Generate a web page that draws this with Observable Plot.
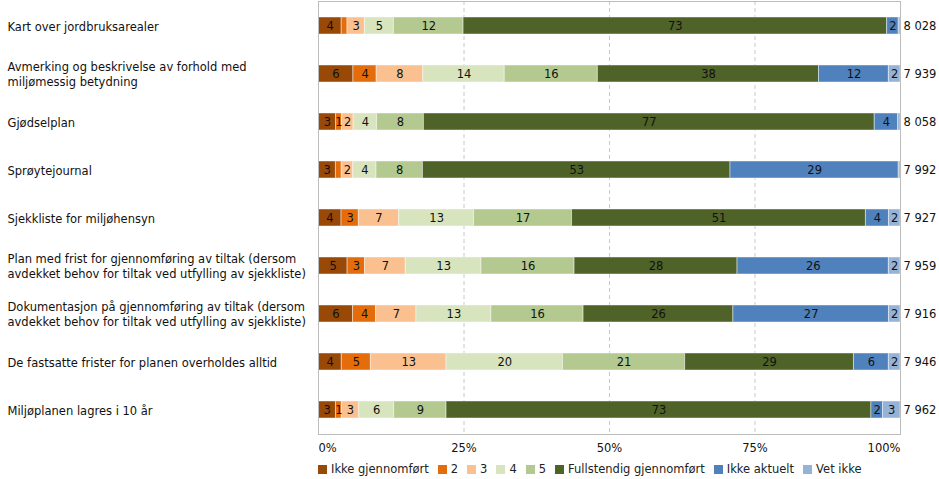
<!DOCTYPE html>
<html>
<head>
<meta charset="utf-8">
<script src="https://cdn.jsdelivr.net/npm/d3@7"></script>
<script src="https://cdn.jsdelivr.net/npm/@observablehq/plot@0.6"></script>
<style>
  body { margin: 0; background: #fff; font-family: "DejaVu Sans", Verdana, sans-serif; }
  #legend { display: flex; margin-left: 318px; margin-top: 6px; font-size: 11.5px; color: #222; align-items: center; }
  #legend .item { display: flex; align-items: center; margin-right: 9px; }
  #legend .sw { width: 9px; height: 9px; margin-right: 4px; }
</style>
</head>
<body>
<div id="chart"></div>
<div id="legend"></div>
<script>
const categories = [
  "Kart over jordbruksarealer",
  "Avmerking og beskrivelse av forhold med\nmiljømessig betydning",
  "Gjødselplan",
  "Sprøytejournal",
  "Sjekkliste for miljøhensyn",
  "Plan med frist for gjennomføring av tiltak (dersom\navdekket behov for tiltak ved utfylling av sjekkliste)",
  "Dokumentasjon på gjennomføring av tiltak (dersom\navdekket behov for tiltak ved utfylling av sjekkliste)",
  "De fastsatte frister for planen overholdes alltid",
  "Miljøplanen lagres i 10 år"
];
const totals = [8028, 7939, 8058, 7992, 7927, 7959, 7916, 7946, 7962];
const seriesNames = ["Ikke gjennomført", "2", "3", "4", "5", "Fullstendig gjennomført", "Ikke aktuelt", "Vet ikke"];
const seriesColors = ["#984807", "#E46C0A", "#FAC090", "#D7E4BD", "#B3C98F", "#4F6228", "#4F81BD", "#95B3D7"];

const ikkeGjennomfort = [4, 6, 3, 3, 4, 5, 6, 4, 3];
const verdi2          = [1, 4, 1, 1, 3, 3, 4, 5, 1];
const verdi3          = [3, 8, 2, 2, 7, 7, 7, 13, 3];
const verdi4          = [5, 14, 4, 4, 13, 13, 13, 20, 6];
const verdi5          = [12, 16, 8, 8, 17, 16, 16, 21, 9];
const fullstendig     = [73, 38, 77, 53, 51, 28, 26, 29, 73];
const ikkeAktuelt     = [2, 12, 4, 29, 4, 26, 27, 6, 2];
const vetIkke         = [0.3, 2, 0.4, 0.3, 2, 2, 2, 2, 3];
// labels not shown in the original (row index, series)
const hiddenLabels = [[0, "2"], [3, "2"]];

const xTicks = [0, 0.25, 0.5, 0.75, 1];

const seriesValues = [ikkeGjennomfort, verdi2, verdi3, verdi4, verdi5, fullstendig, ikkeAktuelt, vetIkke];
const data = [];
categories.forEach((c, i) => {
  seriesNames.forEach((s, j) => {
    const v = seriesValues[j][i];
    const hidden = hiddenLabels.some(([r, n]) => r === i && n === s);
    data.push({cat: c, series: s, value: v, label: (v >= 1 && !hidden) ? String(Math.round(v)) : ""});
  });
});
const fmtN = n => String(n).replace(/\B(?=(\d{3})+(?!\d))/g, " ");

const stackOpts = {x: "value", y: "cat", z: "series", order: seriesNames, offset: "normalize"};
const axisOpts = {tickSize: 0, tickPadding: 9, tickFormat: d3.format(".0%"), fill: "#111", label: null};

const chart = Plot.plot({
  width: 939,
  height: 456,
  marginLeft: 318,
  marginRight: 39,
  marginTop: 1,
  marginBottom: 22,
  style: {fontFamily: '"DejaVu Sans", Verdana, sans-serif', fontSize: "11.5px", color: "#222"},
  x: {domain: [0, 1], axis: null, label: null},
  y: {domain: categories, paddingInner: 0.65, paddingOuter: 0.325, axis: null},
  color: {domain: seriesNames, range: seriesColors},
  marks: [
    Plot.ruleX([0.25, 0.5, 0.75], {stroke: "#c8c8c8", strokeDasharray: "4,3"}),
    Plot.barX(data, Plot.stackX({...stackOpts, fill: "series", stroke: "#ffffff", strokeOpacity: 0.45, strokeWidth: 1, inset: 0})),
    Plot.text(data, Plot.stackX({...stackOpts, text: "label", fill: "#111", fontSize: 11.5})),
    Plot.frame({stroke: "#bdbdbd"}),
    Plot.text(categories, {y: d => d, frameAnchor: "left", textAnchor: "start", dx: -311, lineHeight: 1.25, fill: "#111"}),
    Plot.text(categories.map((c, i) => ({cat: c, n: totals[i]})), {y: "cat", x: () => 1, text: d => fmtN(d.n), textAnchor: "start", dx: 3, fill: "#111"}),
    Plot.axisX([xTicks[0]], {...axisOpts, textAnchor: "start"}),
    Plot.axisX(xTicks.slice(1, 4), axisOpts),
    Plot.axisX([xTicks[4]], {...axisOpts, textAnchor: "end"})
  ]
});
document.getElementById("chart").appendChild(chart);

const legend = document.getElementById("legend");
seriesNames.forEach((s, j) => {
  const item = document.createElement("div");
  item.className = "item";
  const sw = document.createElement("div");
  sw.className = "sw";
  sw.style.background = seriesColors[j];
  const t = document.createElement("span");
  t.textContent = s;
  item.appendChild(sw);
  item.appendChild(t);
  legend.appendChild(item);
});
</script>
</body>
</html>
